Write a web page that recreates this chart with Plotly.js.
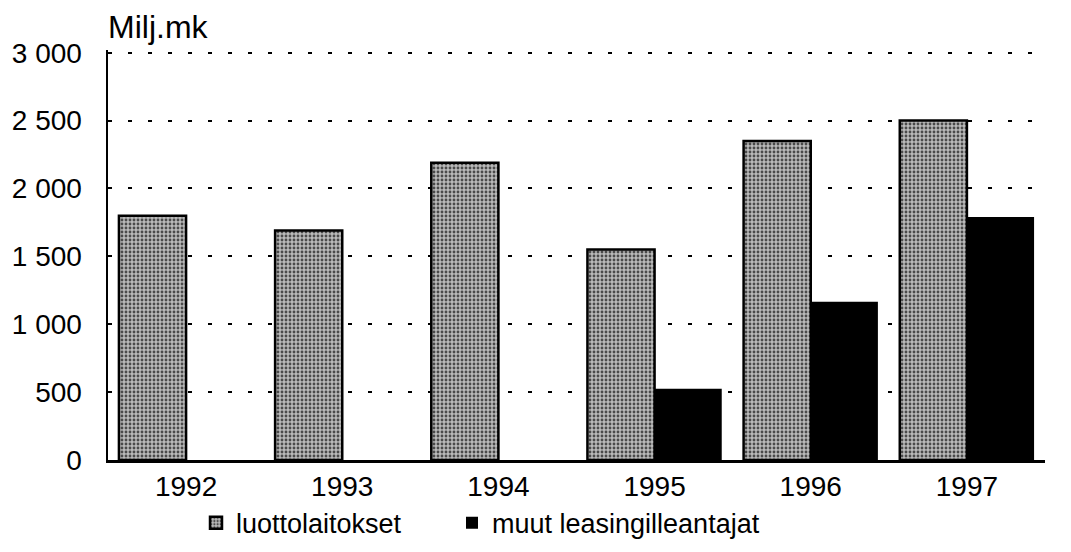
<!DOCTYPE html>
<html>
<head>
<meta charset="utf-8">
<script src="https://cdn.plot.ly/plotly-3.0.1.min.js"></script>
<style>html,body{margin:0;padding:0;background:#fff;}#chart{width:1071px;height:552px;}</style>
</head>
<body>
<div id="chart"></div>
<script>
const years = ['1992', '1993', '1994', '1995', '1996', '1997'];
const luottolaitokset = [1800, 1690, 2190, 1550, 2350, 2500];
const muut = [0, 0, 0, 525, 1165, 1790];
const seriesNames = ['luottolaitokset', 'muut leasingilleantajat'];
const yTicks = [0, 500, 1000, 1500, 2000, 2500, 3000];
const yTickText = ['0', '500', '1 000', '1 500', '2 000', '2 500', '3 000'];

const font = 'Liberation Sans, Arial, Helvetica, sans-serif';

const traces = [
  {
    type: 'bar', name: seriesNames[0], x: years, y: luottolaitokset, legend: 'legend',
    marker: {
      color: '#b0b0b0',
      line: {color: '#000', width: 2.5},
      pattern: {shape: '.', bgcolor: '#bababa', fgcolor: '#4a4a4a', size: 4, solidity: 0.4}
    }
  },
  {
    type: 'bar', name: seriesNames[1], x: years, y: muut, legend: 'legend2',
    marker: {color: '#000', line: {color: '#000', width: 0}}
  }
];

const legendBase = {orientation: 'h', xanchor: 'left', xref: 'container',
  y: 0.008, yanchor: 'bottom', yref: 'container',
  font: {family: font, size: 27, color: '#000'}, itemwidth: 30};

const layout = {
  width: 1071, height: 552,
  margin: {l: 108, r: 26, t: 50, b: 92, autoexpand: false},
  paper_bgcolor: '#fff', plot_bgcolor: '#fff',
  font: {family: font, color: '#000', size: 28},
  barmode: 'group', bargap: 0.14, bargroupgap: 0,
  showlegend: true,
  legend: Object.assign({}, legendBase, {x: 196/1071}),
  legend2: Object.assign({}, legendBase, {x: 452/1071}),
  title: {text: 'Milj.mk', x: 108/1071, xanchor: 'left', xref: 'container',
          y: 1 - 27/552, yanchor: 'middle', yref: 'container',
          font: {family: font, size: 32, color: '#000'}},
  xaxis: {
    type: 'category', showline: true, linecolor: '#000', linewidth: 2.5,
    showgrid: false, ticks: '', tickfont: {size: 28}, fixedrange: true
  },
  yaxis: {
    range: [0, 3020], tickvals: yTicks, ticktext: yTickText,
    showline: true, linecolor: '#000', linewidth: 2.5,
    showgrid: true, gridcolor: '#000', gridwidth: 2, griddash: '4px,16px',
    zeroline: false, ticks: '', ticklen: 0, tickfont: {size: 28}, ticklabelstandoff: 18
  }
};

Plotly.newPlot('chart', traces, layout, {displayModeBar: false, staticPlot: true});
</script>
</body>
</html>
